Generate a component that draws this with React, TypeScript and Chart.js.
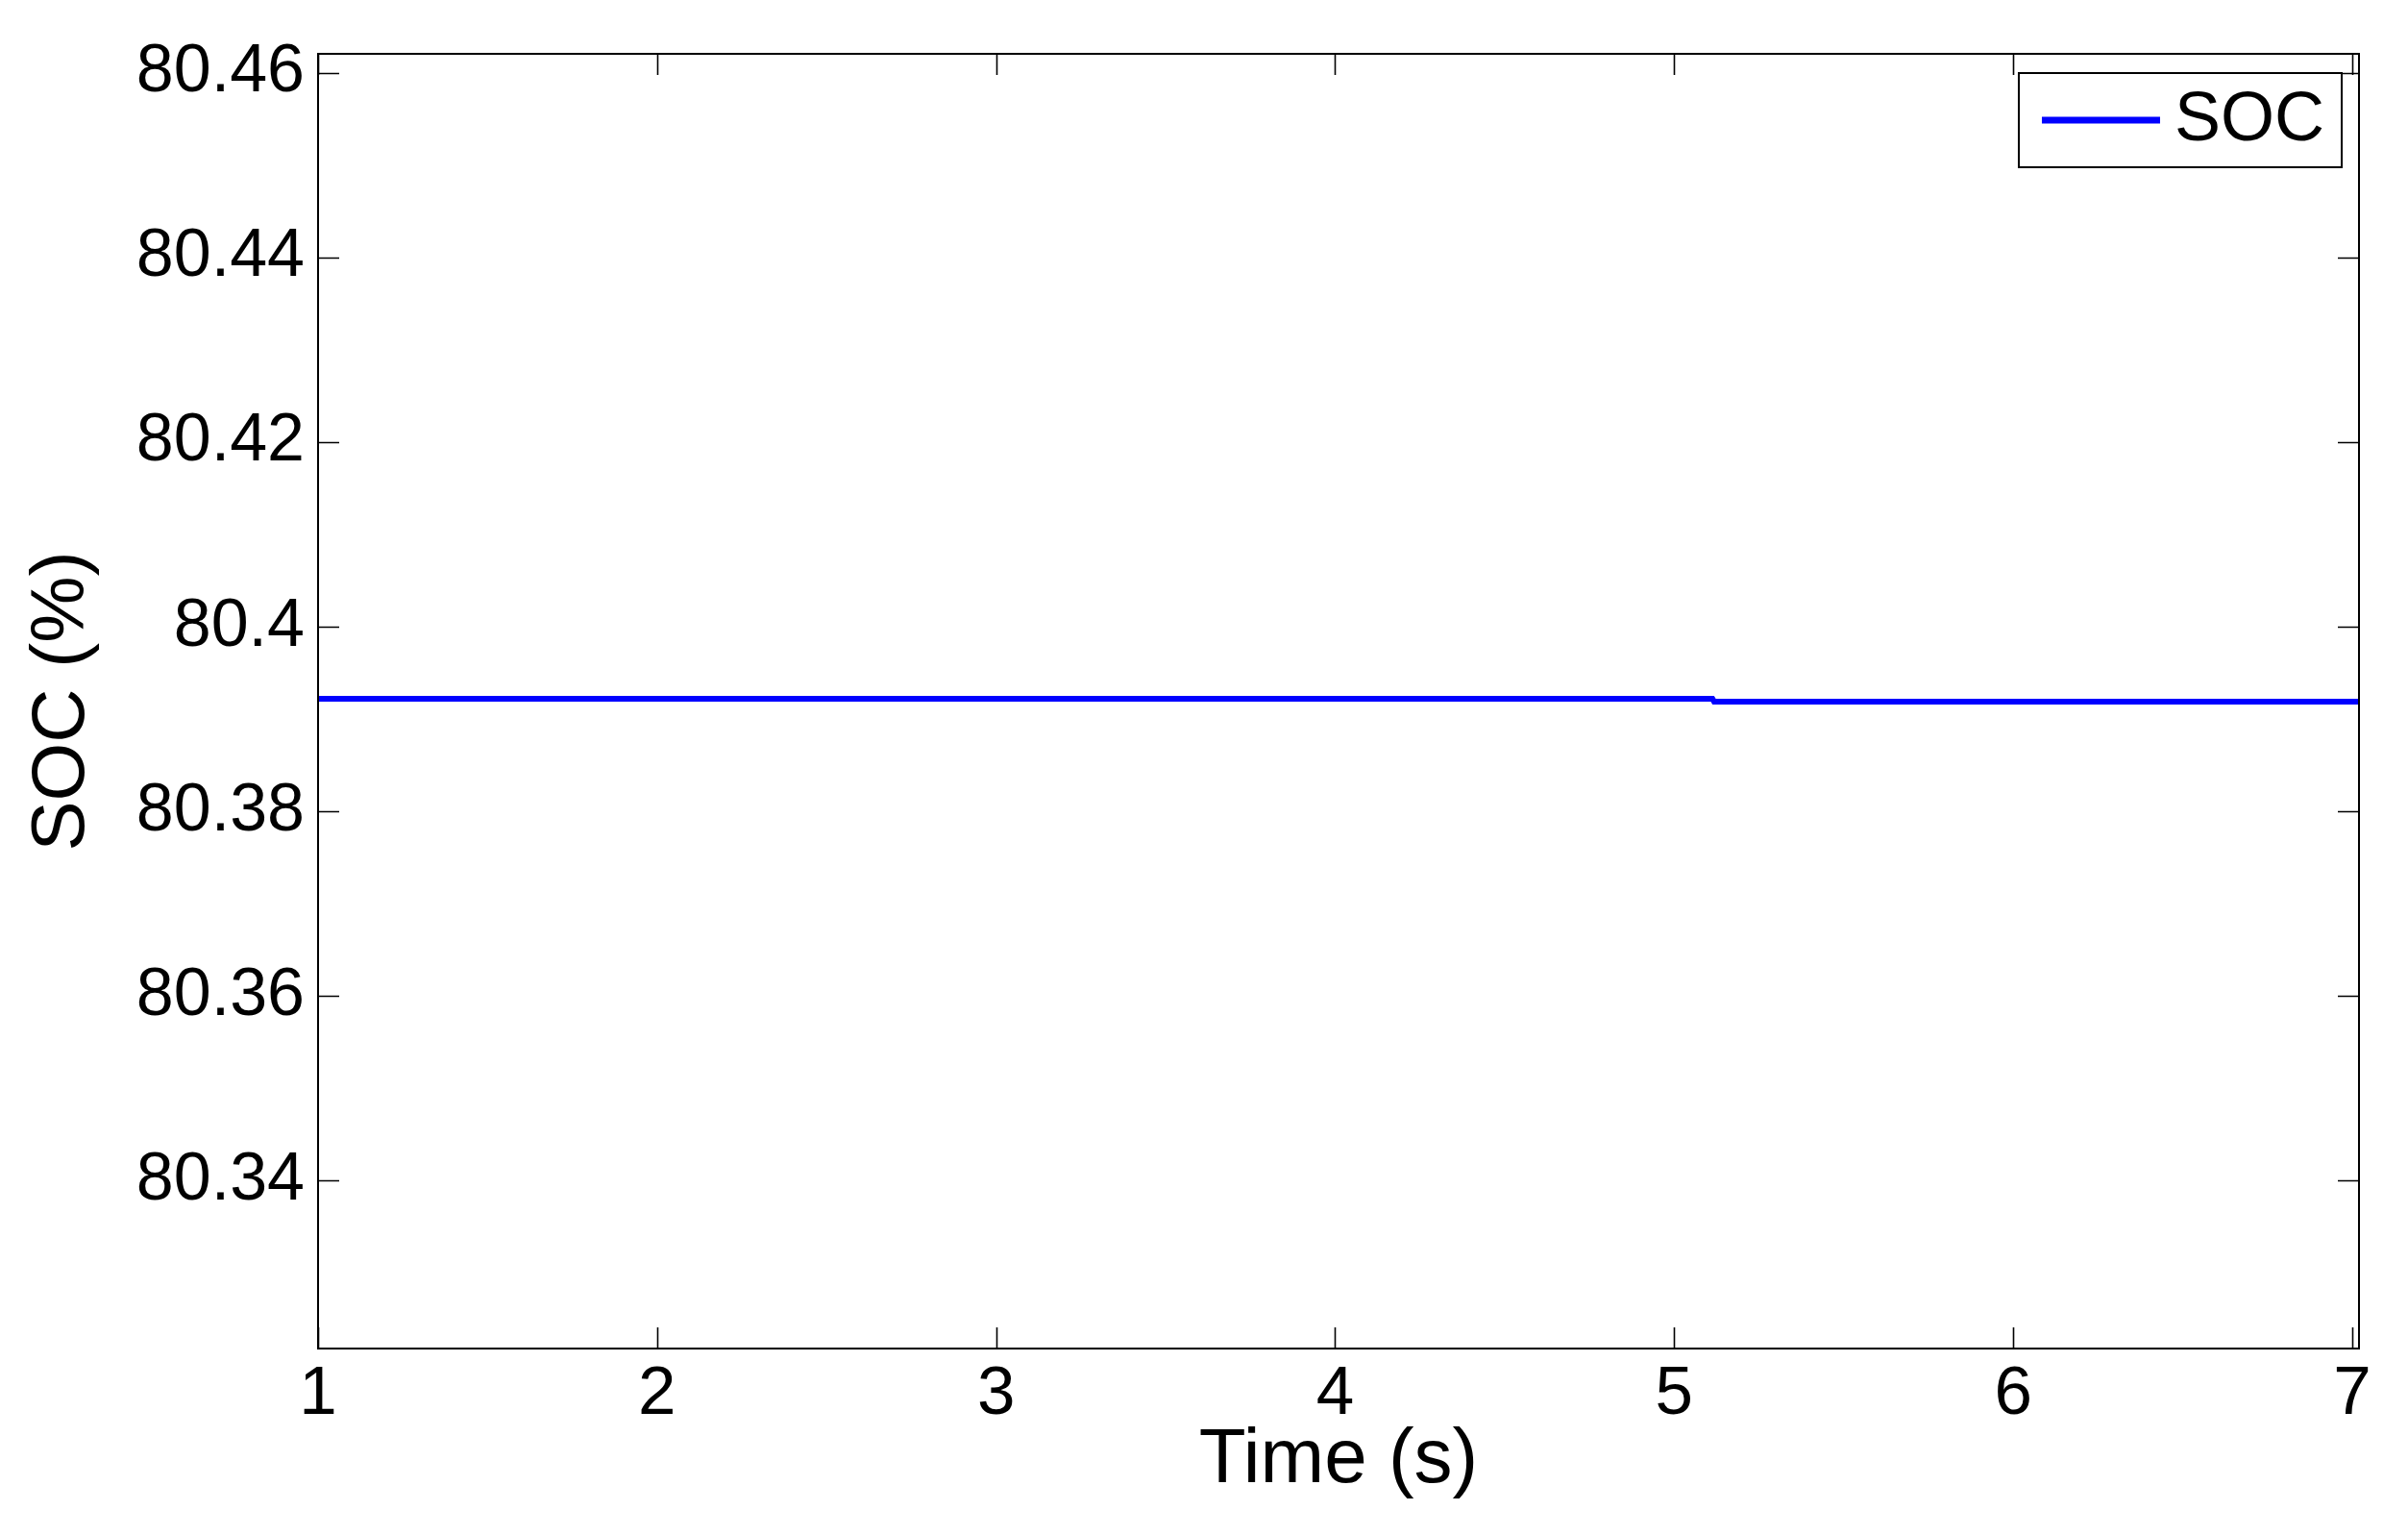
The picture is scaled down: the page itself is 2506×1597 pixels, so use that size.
import React, { useEffect, useRef } from "react";
import { Chart, registerables } from "chart.js";

Chart.register(...registerables);

const timeS = [1, 5.113, 5.118, 7.02];
const socPct = [80.3922, 80.3922, 80.3919, 80.3919];
const xTicks = [1, 2, 3, 4, 5, 6, 7];
const yTicks = [80.34, 80.36, 80.38, 80.4, 80.42, 80.44, 80.46];
const xRange = [1, 7.02];
const yRange = [80.3218, 80.4621];
const seriesLabel = "SOC";
const xTitle = "Time (s)";
const yTitle = "SOC (%)";

const FONT = "'Liberation Sans', Arial, sans-serif";

const framePlugin = {
  id: "frameTicks",
  afterDatasetsDraw(chart: any) {
    const { ctx, chartArea } = chart;
    const { left, right, top, bottom } = chartArea;
    const xs = chart.scales.x;
    const ys = chart.scales.y;
    const tl = 22;
    ctx.save();
    ctx.strokeStyle = "#000";
    ctx.lineWidth = 1.6;
    ctx.beginPath();
    xTicks.forEach((v) => {
      const px = Math.round(xs.getPixelForValue(v)) + 0.5;
      ctx.moveTo(px, bottom);
      ctx.lineTo(px, bottom - tl);
      ctx.moveTo(px, top);
      ctx.lineTo(px, top + tl);
    });
    yTicks.forEach((v) => {
      const py = Math.round(ys.getPixelForValue(v)) + 0.5;
      ctx.moveTo(left, py);
      ctx.lineTo(left + tl, py);
      ctx.moveTo(right, py);
      ctx.lineTo(right - tl, py);
    });
    ctx.stroke();
    ctx.lineWidth = 2;
    ctx.strokeRect(left, top, right - left, bottom - top);

    // legend box
    ctx.font = `72px ${FONT}`;
    const tw = ctx.measureText(seriesLabel).width;
    const boxW = 24 + 123 + 15 + tw + 18;
    const boxH = 98;
    const bx = right - 18 - boxW;
    const by = top + 20;
    ctx.fillStyle = "#fff";
    ctx.fillRect(bx, by, boxW, boxH);
    ctx.lineWidth = 2;
    ctx.strokeRect(bx, by, boxW, boxH);
    const cy = by + boxH / 2;
    ctx.strokeStyle = "#0000ff";
    ctx.lineWidth = 7;
    ctx.beginPath();
    ctx.moveTo(bx + 24, cy);
    ctx.lineTo(bx + 24 + 123, cy);
    ctx.stroke();
    ctx.fillStyle = "#000";
    ctx.textBaseline = "middle";
    ctx.textAlign = "left";
    ctx.fillText(seriesLabel, bx + 24 + 123 + 15, cy + 1);
    ctx.restore();
  },
};

export default function App() {
  const ref = useRef<HTMLCanvasElement>(null);
  useEffect(() => {
    document.body.style.margin = "0";
    const canvas = ref.current!;
    const chart = new Chart(canvas, {
      type: "line",
      data: {
        datasets: [
          {
            label: seriesLabel,
            data: timeS.map((t, i) => ({ x: t, y: socPct[i] })),
            borderColor: "#0000ff",
            borderWidth: 6,
            pointRadius: 0,
            fill: false,
            tension: 0,
          },
        ],
      },
      options: {
        responsive: false,
        animation: false,
        devicePixelRatio: 1,
        layout: { padding: { top: 55, right: 51, left: 0, bottom: 0 } },
        plugins: {
          legend: { display: false },
          tooltip: { enabled: false },
        },
        scales: {
          x: {
            type: "linear",
            min: xRange[0],
            max: xRange[1],
            grid: { display: false, drawTicks: false },
            border: { display: false },
            afterBuildTicks: (s: any) => {
              s.ticks = xTicks.map((v) => ({ value: v }));
            },
            afterFit: (s: any) => {
              s.height = 194;
            },
            ticks: {
              padding: 6,
              color: "#000",
              maxRotation: 0,
              autoSkip: false,
              font: { family: FONT, size: 71 },
              callback: (v: any) => String(v),
            },
            title: {
              display: true,
              text: xTitle,
              color: "#000",
              font: { family: FONT, size: 80 },
              padding: { top: 0, bottom: 29 },
            },
          },
          y: {
            type: "linear",
            min: yRange[0],
            max: yRange[1],
            grid: { display: false, drawTicks: false },
            border: { display: false },
            afterBuildTicks: (s: any) => {
              s.ticks = yTicks.map((v) => ({ value: v }));
            },
            afterFit: (s: any) => {
              s.width = 331;
            },
            ticks: {
              padding: 14,
              color: "#000",
              autoSkip: false,
              font: { family: FONT, size: 70 },
              callback: (v: any) => String(Number(Number(v).toFixed(2))),
            },
            title: {
              display: true,
              text: yTitle,
              color: "#000",
              font: { family: FONT, size: 78 },
              padding: { top: 19, bottom: 0 },
            },
          },
        },
      },
      plugins: [framePlugin],
    });
    return () => chart.destroy();
  }, []);
  return (
    <div style={{ width: 2506, height: 1597, background: "#fff" }}>
      <canvas ref={ref} width={2506} height={1597} style={{ display: "block" }} />
    </div>
  );
}
